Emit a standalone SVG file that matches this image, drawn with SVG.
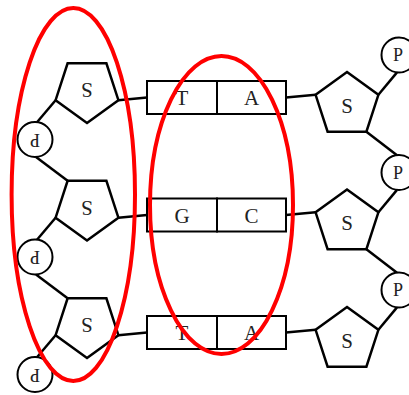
<svg xmlns="http://www.w3.org/2000/svg" xmlns:xlink="http://www.w3.org/1999/xlink" width="409" height="395" viewBox="0 0 409 395">
  <style>
    .sugar { fill: #fff; stroke: #000; stroke-width: 2.5; stroke-linejoin: miter; }
    .phos { fill: #fff; stroke: #000; stroke-width: 2; }
    .base { fill: #fff; stroke: #000; stroke-width: 2; }
    .bond { stroke: #000; stroke-width: 2.5; fill: none; }
    .lbl { font-family: "Liberation Serif", "Times New Roman", serif; fill: #222; text-anchor: middle; }
    .big { font-size: 21px; }
    .small { font-size: 18px; }
    .ring { fill: none; stroke: #ff0000; stroke-width: 4; }
  </style>
  <defs>
    <!-- regular pentagons, circumradius 33 -->
    <polygon id="pentDown" points="0,33 31.4,10.2 19.4,-26.7 -19.4,-26.7 -31.4,10.2"/>
    <polygon id="pentUp" points="0,-33 31.4,-10.2 19.4,26.7 -19.4,26.7 -31.4,-10.2"/>
  </defs>
  <rect width="409" height="395" fill="#fff"/>

  <!-- backbone and base-pair bonds -->
  <g id="connectors" class="bond">
    <!-- left strand -->
    <line x1="55.6" y1="100.2" x2="37" y2="122.2"/>
    <line x1="36" y1="157" x2="67.6" y2="180.8"/>
    <line x1="55.6" y1="217.7" x2="37" y2="239.7"/>
    <line x1="36" y1="274.5" x2="67.6" y2="298.3"/>
    <line x1="55.6" y1="335.2" x2="37" y2="357.2"/>
    <!-- right strand -->
    <line x1="378.4" y1="94.8" x2="397" y2="72.4"/>
    <line x1="366.4" y1="131.7" x2="397" y2="155.2"/>
    <line x1="378.4" y1="212.3" x2="397" y2="189.9"/>
    <line x1="366.4" y1="249.2" x2="397" y2="272.7"/>
    <line x1="378.4" y1="329.8" x2="397" y2="307.4"/>
    <!-- sugar to base -->
    <line x1="118.4" y1="100.2" x2="147" y2="97.5"/>
    <line x1="286" y1="97.5" x2="315.6" y2="94.8"/>
    <line x1="118.4" y1="217.7" x2="147" y2="215"/>
    <line x1="286" y1="215" x2="315.6" y2="212.3"/>
    <line x1="118.4" y1="335.2" x2="147" y2="332.5"/>
    <line x1="286" y1="332.5" x2="315.6" y2="329.8"/>
  </g>

  <!-- left strand (antiparallel, drawn upside down) -->
  <g id="sugarL1"><use xlink:href="#pentDown" class="sugar" x="87" y="90"/><text class="lbl big" x="87" y="97" transform="rotate(180 87 90)">S</text></g>
  <g id="sugarL2"><use xlink:href="#pentDown" class="sugar" x="87" y="207.5"/><text class="lbl big" x="87" y="214.5" transform="rotate(180 87 207.5)">S</text></g>
  <g id="sugarL3"><use xlink:href="#pentDown" class="sugar" x="87" y="325"/><text class="lbl big" x="87" y="332" transform="rotate(180 87 325)">S</text></g>
  <g id="phosL1"><circle class="phos" cx="35" cy="139.5" r="17.5"/><text class="lbl small" x="35" y="145.5" transform="rotate(180 35 139.5)">P</text></g>
  <g id="phosL2"><circle class="phos" cx="35" cy="257" r="17.5"/><text class="lbl small" x="35" y="263" transform="rotate(180 35 257)">P</text></g>
  <g id="phosL3"><circle class="phos" cx="35" cy="374.5" r="17.5"/><text class="lbl small" x="35" y="380.5" transform="rotate(180 35 374.5)">P</text></g>

  <!-- base pairs -->
  <g id="pair1">
    <rect class="base" x="147" y="81" width="70" height="33"/>
    <rect class="base" x="217" y="81" width="69" height="33"/>
    <text class="lbl big" x="182" y="105">T</text>
    <text class="lbl big" x="251.5" y="105">A</text>
  </g>
  <g id="pair2">
    <rect class="base" x="147" y="198.5" width="70" height="33"/>
    <rect class="base" x="217" y="198.5" width="69" height="33"/>
    <text class="lbl big" x="182" y="222.5">G</text>
    <text class="lbl big" x="251.5" y="222.5">C</text>
  </g>
  <g id="pair3">
    <rect class="base" x="147" y="316" width="70" height="33"/>
    <rect class="base" x="217" y="316" width="69" height="33"/>
    <text class="lbl big" x="182" y="340">T</text>
    <text class="lbl big" x="251.5" y="340">A</text>
  </g>

  <!-- right strand -->
  <g id="sugarR1"><use xlink:href="#pentUp" class="sugar" x="347" y="105"/><text class="lbl big" x="347" y="112.5">S</text></g>
  <g id="sugarR2"><use xlink:href="#pentUp" class="sugar" x="347" y="222.5"/><text class="lbl big" x="347" y="230">S</text></g>
  <g id="sugarR3"><use xlink:href="#pentUp" class="sugar" x="347" y="340"/><text class="lbl big" x="347" y="347.5">S</text></g>
  <g id="phosR1"><circle class="phos" cx="399" cy="55" r="17.5"/><text class="lbl small" x="398" y="61">P</text></g>
  <g id="phosR2"><circle class="phos" cx="399" cy="172.5" r="17.5"/><text class="lbl small" x="398" y="178.5">P</text></g>
  <g id="phosR3"><circle class="phos" cx="399" cy="290" r="17.5"/><text class="lbl small" x="398" y="296">P</text></g>

  <!-- highlight rings -->
  <g id="highlights">
    <ellipse class="ring" cx="73.3" cy="194.5" rx="61.7" ry="186.5"/>
    <ellipse class="ring" cx="221.5" cy="205" rx="71.5" ry="149"/>
  </g>
</svg>
